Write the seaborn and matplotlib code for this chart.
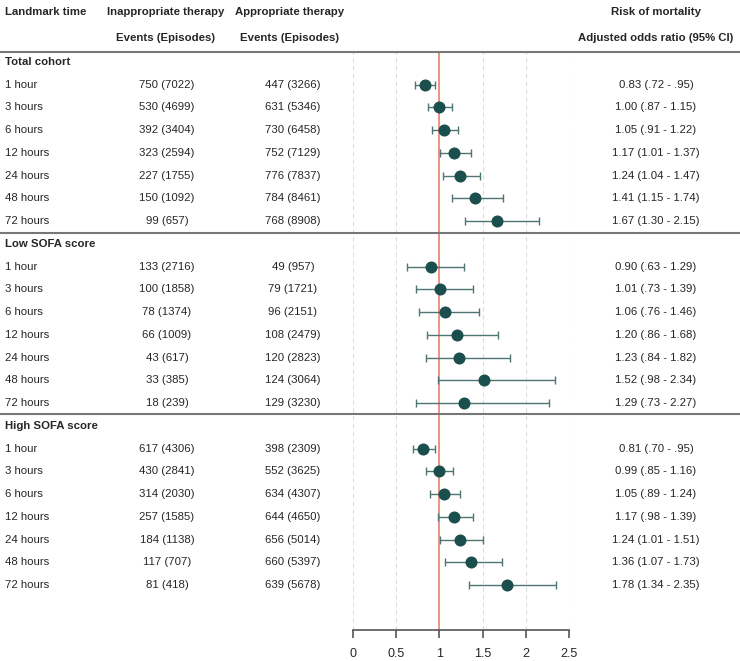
import numpy as np
import pandas as pd
import matplotlib
matplotlib.use("Agg")
import matplotlib.pyplot as plt
import matplotlib.transforms as mtransforms
import seaborn as sns

# Data
landmarks = ["1 hour", "3 hours", "6 hours", "12 hours", "24 hours", "48 hours", "72 hours"]
groups = ["Total cohort", "Low SOFA score", "High SOFA score"]

inapp_events = [[750, 530, 392, 323, 227, 150, 99],
                [133, 100, 78, 66, 43, 33, 18],
                [617, 430, 314, 257, 184, 117, 81]]
inapp_episodes = [[7022, 4699, 3404, 2594, 1755, 1092, 657],
                  [2716, 1858, 1374, 1009, 617, 385, 239],
                  [4306, 2841, 2030, 1585, 1138, 707, 418]]
app_events = [[447, 631, 730, 752, 776, 784, 768],
              [49, 79, 96, 108, 120, 124, 129],
              [398, 552, 634, 644, 656, 660, 639]]
app_episodes = [[3266, 5346, 6458, 7129, 7837, 8461, 8908],
                [957, 1721, 2151, 2479, 2823, 3064, 3230],
                [2309, 3625, 4307, 4650, 5014, 5397, 5678]]
odds_ratio = [[0.83, 1.00, 1.05, 1.17, 1.24, 1.41, 1.67],
              [0.90, 1.01, 1.06, 1.20, 1.23, 1.52, 1.29],
              [0.81, 0.99, 1.05, 1.17, 1.24, 1.36, 1.78]]
ci_low = [[0.72, 0.87, 0.91, 1.01, 1.04, 1.15, 1.30],
          [0.63, 0.73, 0.76, 0.86, 0.84, 0.98, 0.73],
          [0.70, 0.85, 0.89, 0.98, 1.01, 1.07, 1.34]]
ci_high = [[0.95, 1.15, 1.22, 1.37, 1.47, 1.74, 2.15],
           [1.29, 1.39, 1.46, 1.68, 1.82, 2.34, 2.27],
           [0.95, 1.16, 1.24, 1.39, 1.51, 1.73, 2.35]]
x_ticks = [0, 0.5, 1, 1.5, 2, 2.5]


def ci_fmt(v):
    s = f"{v:.2f}"
    return s[1:] if v < 1 else s


# build long table, one row per estimate
records = []
row = 0
section_rows = []
for g, name in enumerate(groups):
    section_rows.append((row, name))
    row += 1
    for i, lm in enumerate(landmarks):
        records.append({
            "row": row, "group": name, "landmark": lm,
            "inapp": f"{inapp_events[g][i]} ({inapp_episodes[g][i]})",
            "app": f"{app_events[g][i]} ({app_episodes[g][i]})",
            "or": odds_ratio[g][i], "lo": ci_low[g][i], "hi": ci_high[g][i],
        })
        row += 1
df = pd.DataFrame(records)

sns.set_style("white")
plt.rcParams["font.family"] = ["Liberation Sans", "DejaVu Sans"]
plt.rcParams["font.size"] = 8.2

W, H = 740, 661
fig = plt.figure(figsize=(W / 100, H / 100), dpi=100)

pitch = 22.74
y_top, y_bot = 52, 630
ax = fig.add_axes([353 / W, 1 - y_bot / H, 216 / W, (y_bot - y_top) / H])
ax.set_xlim(0, 2.5)
ax.set_ylim((y_bot - 62) / pitch, (y_top - 62) / pitch)

teal = "#1b4f4d"
for xv in [0, 0.5, 1.5, 2, 2.5]:
    ax.axvline(xv, color="#dcdcdc", lw=0.8, ls=(0, (4, 3)), zorder=0)
ax.axvline(1, color="#e8806e", lw=1.2, zorder=1)

ax.errorbar(df["or"], df["row"], xerr=[df["or"] - df["lo"], df["hi"] - df["or"]],
            fmt="none", ecolor="#4f7573", elinewidth=1, capsize=3, capthick=1, zorder=2)
sns.scatterplot(data=df, x="or", y="row", ax=ax, s=75, color=teal,
                edgecolor=teal, linewidth=0, zorder=3, legend=False)

ax.set_xticks(x_ticks)
ax.set_xticklabels(["0", "0.5", "1", "1.5", "2", "2.5"])
ax.set_yticks([])
ax.set_xlabel("")
ax.set_ylabel("")
for s in ["top", "left", "right"]:
    ax.spines[s].set_visible(False)
ax.spines["bottom"].set_color("#555555")
ax.spines["bottom"].set_linewidth(1.2)
ax.tick_params(axis="x", bottom=True, direction="out", length=6, width=1.2,
               color="#555555", labelsize=9, pad=7)

# table text
tr = mtransforms.blended_transform_factory(fig.transFigure, ax.transData)
def fx(px):
    return px / W

h1 = (12 - 62) / pitch
h2 = (38 - 62) / pitch
bold = dict(fontweight="bold", transform=tr, va="center", clip_on=False)
ax.text(fx(5), h1, "Landmark time", ha="left", **bold)
ax.text(fx(166), h1, "Inappropriate therapy", ha="center", **bold)
ax.text(fx(290), h1, "Appropriate therapy", ha="center", **bold)
ax.text(fx(656), h1, "Risk of mortality", ha="center", **bold)
ax.text(fx(166), h2, "Events (Episodes)", ha="center", **bold)
ax.text(fx(290), h2, "Events (Episodes)", ha="center", **bold)
ax.text(fx(656), h2, "Adjusted odds ratio (95% CI)", ha="center", **bold)

for r, name in section_rows:
    ax.text(fx(5), r, name, ha="left", **bold)

plain = dict(transform=tr, va="center", clip_on=False)
for _, rec in df.iterrows():
    ax.text(fx(5), rec["row"], rec["landmark"], ha="left", **plain)
    ax.text(fx(167), rec["row"], rec["inapp"], ha="center", **plain)
    ax.text(fx(293), rec["row"], rec["app"], ha="center", **plain)
    txt = f"{rec['or']:.2f} ({ci_fmt(rec['lo'])} - {ci_fmt(rec['hi'])})"
    ax.text(fx(656), rec["row"], txt, ha="center", **plain)

# separators
for yv in [(y_top - 62) / pitch, 7.5, 15.5]:
    ax.plot([0, 1], [yv, yv], transform=tr, color="#777777", lw=1.5,
            clip_on=False, zorder=4)

fig.savefig("out.png", dpi=100, facecolor="white")
